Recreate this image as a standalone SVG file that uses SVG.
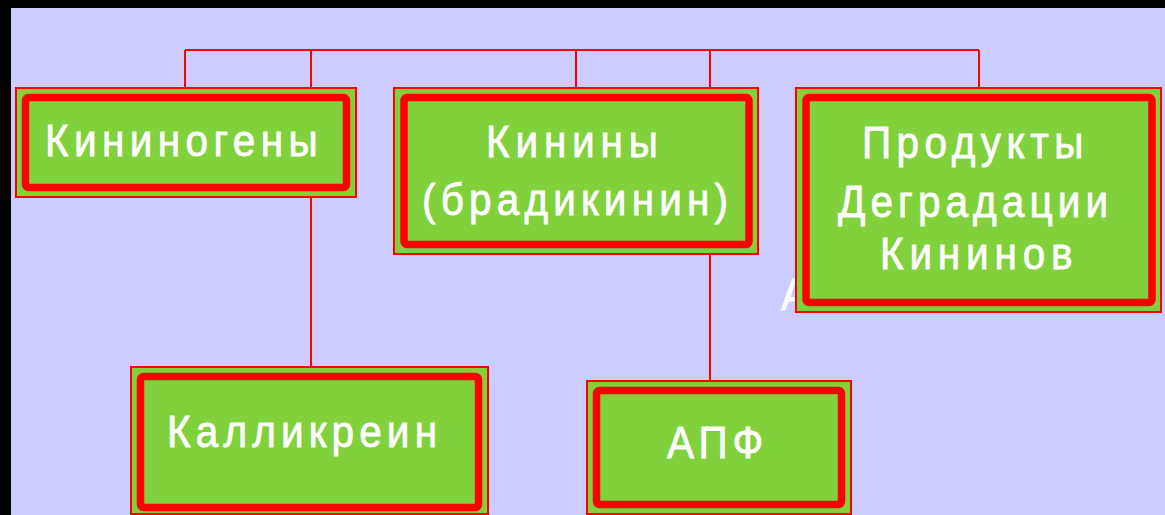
<svg xmlns="http://www.w3.org/2000/svg" width="1165" height="515" viewBox="0 0 1165 515">
  <style>
    .frame { fill: #80D13C; stroke: #FF0000; stroke-width: 2; }
    .inner { fill: #80D13C; stroke: #FF0000; stroke-width: 7.5; }
    .link { fill: none; stroke: #FF0000; stroke-width: 2; }
    .label { fill: #FFFFFF; stroke: #FFFFFF; stroke-width: 0.8; font-family: "Liberation Sans", Arial, sans-serif; font-size: 45px; }
  </style>
  <!-- slide background with dark edge -->
  <rect x="0" y="0" width="1165" height="515" fill="#000000"/>
  <rect x="11" y="8" width="1154" height="507" fill="#CCCCFF"/>

  <!-- text left behind the right-hand box (condensed glyphs via scale) -->
  <text class="label" transform="translate(781 310) scale(0.9 1)">А</text>

  <g id="connectors">
    <path class="link" d="M185 50 H979"/>
    <path class="link" d="M185 50 V88"/>
    <path class="link" d="M311 50 V367"/>
    <path class="link" d="M576 50 V88"/>
    <path class="link" d="M710 50 V381"/>
    <path class="link" d="M979 50 V88"/>
  </g>

  <g id="kininogens">
    <rect class="frame" x="16" y="88" width="340" height="109"/>
    <rect class="inner" x="25.5" y="97.5" width="321" height="90" rx="3"/>
    <text class="label" transform="translate(45 156) scale(0.9 1)" textLength="303" lengthAdjust="spacing">Кининогены</text>
  </g>

  <g id="kinins">
    <rect class="frame" x="394" y="88" width="364" height="166"/>
    <rect class="inner" x="404" y="97.5" width="345" height="147" rx="3"/>
    <text class="label" transform="translate(486 157) scale(0.9 1)" textLength="191" lengthAdjust="spacing">Кинины</text>
    <text class="label" transform="translate(422 215) scale(0.9 1)" textLength="340" lengthAdjust="spacing">(брадикинин)</text>
  </g>

  <g id="degradation-products">
    <rect class="frame" x="796" y="88" width="365" height="224"/>
    <rect class="inner" x="806" y="97.5" width="346" height="205" rx="3"/>
    <text class="label" transform="translate(862 158) scale(0.9 1)" textLength="246" lengthAdjust="spacing">Продукты</text>
    <text class="label" transform="translate(838 217) scale(0.9 1)" textLength="300" lengthAdjust="spacing">Деградации</text>
    <text class="label" transform="translate(880 269) scale(0.9 1)" textLength="214" lengthAdjust="spacing">Кининов</text>
  </g>

  <g id="kallikrein">
    <rect class="frame" x="131" y="367" width="357" height="147"/>
    <rect class="inner" x="140.5" y="376.5" width="338" height="131" rx="3"/>
    <text class="label" transform="translate(167 447) scale(0.9 1)" textLength="300" lengthAdjust="spacing">Калликреин</text>
  </g>

  <g id="ace">
    <rect class="frame" x="587" y="381" width="264" height="133"/>
    <rect class="inner" x="596.5" y="390.5" width="245" height="114" rx="3"/>
    <text class="label" transform="translate(667 458) scale(0.9 1)" textLength="107" lengthAdjust="spacing">АПФ</text>
  </g>
</svg>
